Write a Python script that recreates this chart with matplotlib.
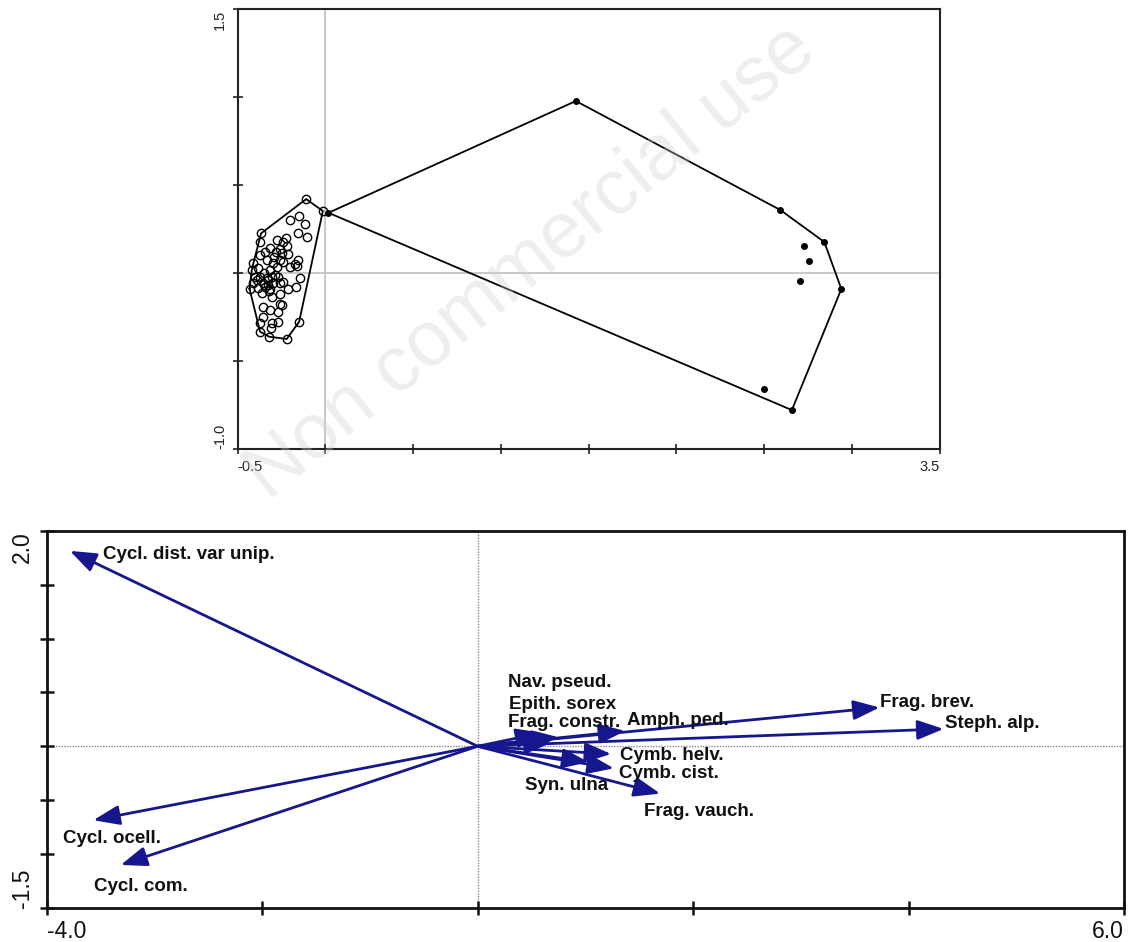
import matplotlib
matplotlib.use('Agg')
import matplotlib.pyplot as plt
import numpy as np

plt.rcParams['font.family'] = ['Liberation Sans', 'DejaVu Sans']

# sample scores, group 1 (open circles)
open_x = [-0.110, -0.015, -0.202, -0.150, -0.118, -0.158, -0.106, -0.367, -0.373, -0.278,
          -0.224, -0.240, -0.217, -0.316, -0.344, -0.259, -0.249, -0.373, -0.211, -0.293,
          -0.154, -0.411, -0.335, -0.259, -0.240, -0.173, -0.163, -0.202, -0.420, -0.382,
          -0.316, -0.278, -0.144, -0.401, -0.373, -0.335, -0.306, -0.268, -0.240, -0.411,
          -0.354, -0.325, -0.297, -0.259, -0.433, -0.382, -0.344, -0.316, -0.215, -0.169,
          -0.363, -0.306, -0.259, -0.354, -0.316, -0.268, -0.354, -0.249, -0.376, -0.306,
          -0.268, -0.150, -0.373, -0.321, -0.221, -0.312, -0.330, -0.290, -0.350, -0.300,
          -0.280, -0.390, -0.320, -0.260]
open_y = [0.422, 0.354, 0.303, 0.328, 0.280, 0.231, 0.208, 0.227, 0.180, 0.189,
          0.203, 0.180, 0.157, 0.142, 0.123, 0.136, 0.114, 0.104, 0.110, 0.095,
          0.076, 0.057, 0.076, 0.076, 0.066, 0.051, 0.042, 0.038, 0.019, 0.028,
          0.019, 0.038, -0.025, -0.019, -0.019, -0.028, -0.019, -0.019, -0.047, -0.057,
          -0.057, -0.066, -0.053, -0.057, -0.087, -0.085, -0.080, -0.091, -0.091, -0.080,
          -0.114, -0.133, -0.174, -0.189, -0.208, -0.218, -0.246, -0.180, -0.284, -0.284,
          -0.275, -0.275, -0.331, -0.360, -0.373, -0.313, -0.040, -0.010, 0.000, 0.060,
          0.120, -0.040, -0.100, -0.120]

# sample scores, group 2 (filled dots)
filled_x = [0.017, 1.427, 2.592, 2.843, 2.729, 2.753, 2.706, 2.940, 2.497, 2.658]
filled_y = [0.344, 0.979, 0.360, 0.178, 0.155, 0.070, -0.042, -0.089, -0.659, -0.777]

# species vectors
species = ['Cycl. dist. var unip.', 'Cycl. ocell.', 'Cycl. com.', 'Frag. brev.', 'Steph. alp.',
           'Amph. ped.', 'Nav. pseud.', 'Epith. sorex', 'Frag. constr.', 'Cymb. helv.',
           'Cymb. cist.', 'Syn. ulna', 'Frag. vauch.']
arrow_x = [-3.784, -3.567, -3.313, 3.731, 4.325, 1.370, 0.750, 0.680, 0.600, 1.240, 1.265, 1.030, 1.695]
arrow_y = [1.815, -0.687, -1.103, 0.360, 0.161, 0.142, 0.085, 0.030, 0.125, -0.072, -0.205, -0.148, -0.440]
label_x = [-3.48, -3.846, -3.558, 3.737, 4.341, 1.385, 0.283, 0.292, 0.283, 1.323, 1.317, 0.441, 1.54]
label_y = [1.778, -0.856, -1.303, 0.407, 0.213, 0.238, 0.592, 0.392, 0.222, -0.086, -0.255, -0.363, -0.61]


def hull(xs, ys):
    pts = sorted(set(zip(xs, ys)))

    def cross(o, a, b):
        return (a[0] - o[0]) * (b[1] - o[1]) - (a[1] - o[1]) * (b[0] - o[0])

    lower, upper = [], []
    for p in pts:
        while len(lower) >= 2 and cross(lower[-2], lower[-1], p) <= 0:
            lower.pop()
        lower.append(p)
    for p in reversed(pts):
        while len(upper) >= 2 and cross(upper[-2], upper[-1], p) <= 0:
            upper.pop()
        upper.append(p)
    ring = lower[:-1] + upper[:-1]
    ring.append(ring[0])
    return np.array(ring)


fig = plt.figure(figsize=(11.3, 9.42), dpi=100)

# ---- sample plot ----
ax1 = fig.add_axes([0.2104, 0.5230, 0.6211, 0.4671])
ax1.set_xlim(-0.5, 3.5)
ax1.set_ylim(-1.0, 1.5)
ax1.axhline(0, color='#c4c4c4', lw=1.3, zorder=0)
ax1.axvline(0, color='#c4c4c4', lw=1.3, zorder=0)

for xs, ys in [(open_x, open_y), (filled_x, filled_y)]:
    h = hull(xs, ys)
    ax1.plot(h[:, 0], h[:, 1], color='black', lw=1.3, zorder=2)

ax1.plot(open_x, open_y, 'o', ms=6, mfc='none', mec='black', mew=1.0, zorder=3)
ax1.plot(filled_x, filled_y, 'o', ms=4, color='black', zorder=3)

xt = np.arange(-0.5, 3.51, 0.5)
yt = np.arange(-1.0, 1.51, 0.5)
ax1.set_xticks(xt)
ax1.set_xticklabels(['-0.5'] + [''] * (len(xt) - 2) + ['3.5'])
ax1.set_yticks(yt)
ax1.set_yticklabels(['-1.0'] + [''] * (len(yt) - 2) + ['1.5'], rotation=90)
ax1.tick_params(direction='inout', length=7, width=1.2, labelsize=10.5, pad=4, colors='#222222')
xl = ax1.get_xticklabels()
xl[0].set_ha('left')
xl[-1].set_ha('right')
yl = ax1.get_yticklabels()
yl[0].set_va('bottom')
yl[-1].set_va('top')
for s in ax1.spines.values():
    s.set_linewidth(1.5)
    s.set_color('#222222')

# ---- species biplot ----
ax2 = fig.add_axes([0.0413, 0.0364, 0.9534, 0.3999])
ax2.set_xlim(-4.0, 6.0)
ax2.set_ylim(-1.5, 2.0)
ax2.axhline(0, color='#888888', lw=1.0, ls=(0, (1, 1)), zorder=0)
ax2.axvline(0, color='#888888', lw=1.0, ls=(0, (1, 1)), zorder=0)

navy = '#16168f'
for name, ex, ey, tx, ty in zip(species, arrow_x, arrow_y, label_x, label_y):
    ax2.annotate('', xy=(ex, ey), xytext=(0, 0),
                 arrowprops=dict(arrowstyle='-|>,head_length=0.8,head_width=0.3',
                                 mutation_scale=20, color=navy, lw=2.0,
                                 shrinkA=0, shrinkB=0), zorder=3)
    ax2.text(tx, ty, name, fontsize=13.5, fontweight='bold', color='#111111',
             ha='left', va='center', zorder=4)

xt2 = np.arange(-4, 6.1, 2)
yt2 = np.arange(-1.5, 2.01, 0.5)
ax2.set_xticks(xt2)
ax2.set_xticklabels(['-4.0'] + [''] * (len(xt2) - 2) + ['6.0'])
ax2.set_yticks(yt2)
ax2.set_yticklabels(['-1.5'] + [''] * (len(yt2) - 2) + ['2.0'], rotation=90)
ax2.tick_params(direction='inout', length=10, width=1.8, labelsize=16.5, pad=4, colors='#111111')
xl = ax2.get_xticklabels()
xl[0].set_ha('left')
xl[-1].set_ha('right')
yl = ax2.get_yticklabels()
yl[0].set_va('bottom')
yl[-1].set_va('top')
for s in ax2.spines.values():
    s.set_linewidth(2.0)
    s.set_color('#111111')

fig.text(0.47, 0.722, 'Non commercial use', fontsize=56, rotation=39,
         color='#d0d0d0', alpha=0.35, ha='center', va='center', zorder=10)

fig.savefig('out.png', dpi=100)
